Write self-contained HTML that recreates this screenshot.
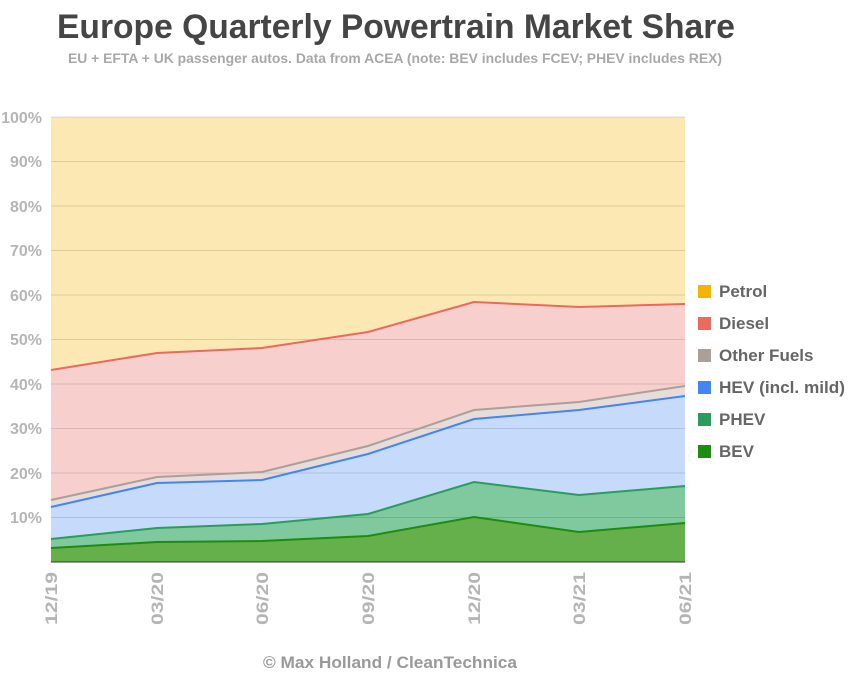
<!DOCTYPE html>
<html><head><meta charset="utf-8"><style>
body{margin:0;background:#fff;width:849px;height:680px;overflow:hidden}
svg text{font-family:"Liberation Sans",Arial,sans-serif}
</style></head><body>
<svg width="849" height="680" xmlns="http://www.w3.org/2000/svg">
<text x="396" y="38" text-anchor="middle" font-size="34" font-weight="bold" fill="#454545" textLength="678" lengthAdjust="spacingAndGlyphs">Europe Quarterly Powertrain Market Share</text>
<text x="395" y="63" text-anchor="middle" font-size="13.5" font-weight="bold" fill="#a8a8a8" textLength="654" lengthAdjust="spacingAndGlyphs">EU + EFTA + UK passenger autos. Data from ACEA (note: BEV includes FCEV; PHEV includes REX)</text>
<rect x="51" y="117" width="634" height="445" fill="#fce8b2"/>
<polygon fill="#f7cfcd" points="51,370 157,353 262,348 368,332 474,302 579,307 685,304 685,562 51,562"/>
<polygon fill="#e6dcda" points="51,500 157,477 262,472 368,446 474,410 579,402 685,386 685,562 51,562"/>
<polygon fill="#c6dafc" points="51,507 157,483 262,480 368,454 474,419 579,410 685,396 685,562 51,562"/>
<polygon fill="#80c89e" points="51,539 157,528 262,524 368,514 474,482 579,495 685,486 685,562 51,562"/>
<polygon fill="#65b04a" points="51,548 157,542 262,541 368,536 474,517 579,532 685,523 685,562 51,562"/>
<g stroke="#000" stroke-opacity="0.12" stroke-width="1">
<line x1="51" x2="685" y1="117" y2="117"/><line x1="51" x2="685" y1="161.5" y2="161.5"/><line x1="51" x2="685" y1="206" y2="206"/><line x1="51" x2="685" y1="250.5" y2="250.5"/><line x1="51" x2="685" y1="295" y2="295"/><line x1="51" x2="685" y1="339.5" y2="339.5"/><line x1="51" x2="685" y1="384" y2="384"/><line x1="51" x2="685" y1="428.5" y2="428.5"/><line x1="51" x2="685" y1="473" y2="473"/><line x1="51" x2="685" y1="517.5" y2="517.5"/>
</g>
<g fill="none" stroke-width="2">
<polyline stroke="#ea6a5e" points="51,370 157,353 262,348 368,332 474,302 579,307 685,304"/>
<polyline stroke="#ab9f99" points="51,500 157,477 262,472 368,446 474,410 579,402 685,386"/>
<polyline stroke="#4285f4" points="51,507 157,483 262,480 368,454 474,419 579,410 685,396"/>
<polyline stroke="#2a9d5a" points="51,539 157,528 262,524 368,514 474,482 579,495 685,486"/>
<polyline stroke="#1e8c0e" points="51,548 157,542 262,541 368,536 474,517 579,532 685,523"/>
</g>
<line x1="51" x2="685" y1="562" y2="562" stroke="#333" stroke-width="1"/>
<g font-size="16" font-weight="bold" fill="#b5b5b5" text-anchor="end">
<text x="42" y="123">100%</text><text x="42" y="167">90%</text><text x="42" y="212">80%</text><text x="42" y="256">70%</text><text x="42" y="301">60%</text><text x="42" y="345">50%</text><text x="42" y="390">40%</text><text x="42" y="434">30%</text><text x="42" y="479">20%</text><text x="42" y="523">10%</text>
</g>
<g font-size="17" font-weight="bold" fill="#b5b5b5" text-anchor="start">
<text transform="translate(57,625) rotate(-90)" textLength="53" lengthAdjust="spacingAndGlyphs">12/19</text>
<text transform="translate(163,625) rotate(-90)" textLength="53" lengthAdjust="spacingAndGlyphs">03/20</text>
<text transform="translate(268,625) rotate(-90)" textLength="53" lengthAdjust="spacingAndGlyphs">06/20</text>
<text transform="translate(374,625) rotate(-90)" textLength="53" lengthAdjust="spacingAndGlyphs">09/20</text>
<text transform="translate(480,625) rotate(-90)" textLength="53" lengthAdjust="spacingAndGlyphs">12/20</text>
<text transform="translate(585,625) rotate(-90)" textLength="53" lengthAdjust="spacingAndGlyphs">03/21</text>
<text transform="translate(691,625) rotate(-90)" textLength="53" lengthAdjust="spacingAndGlyphs">06/21</text>
</g>
<g font-size="17" font-weight="bold" fill="#666">
<rect x="698" y="285" width="13" height="13" fill="#f4b400"/><text x="719" y="297">Petrol</text>
<rect x="698" y="317" width="13" height="13" fill="#ea6a5e"/><text x="719" y="329">Diesel</text>
<rect x="698" y="349" width="13" height="13" fill="#ab9f99"/><text x="719" y="361">Other Fuels</text>
<rect x="698" y="381" width="13" height="13" fill="#4285f4"/><text x="719" y="393" textLength="126" lengthAdjust="spacingAndGlyphs">HEV (incl. mild)</text>
<rect x="698" y="413" width="13" height="13" fill="#2a9d5a"/><text x="719" y="425">PHEV</text>
<rect x="698" y="445" width="13" height="13" fill="#1e8c0e"/><text x="719" y="457">BEV</text>
</g>
<text x="390" y="668" text-anchor="middle" font-size="17" font-weight="bold" fill="#999" textLength="254" lengthAdjust="spacingAndGlyphs">© Max Holland / CleanTechnica</text>
</svg>
</body></html>
